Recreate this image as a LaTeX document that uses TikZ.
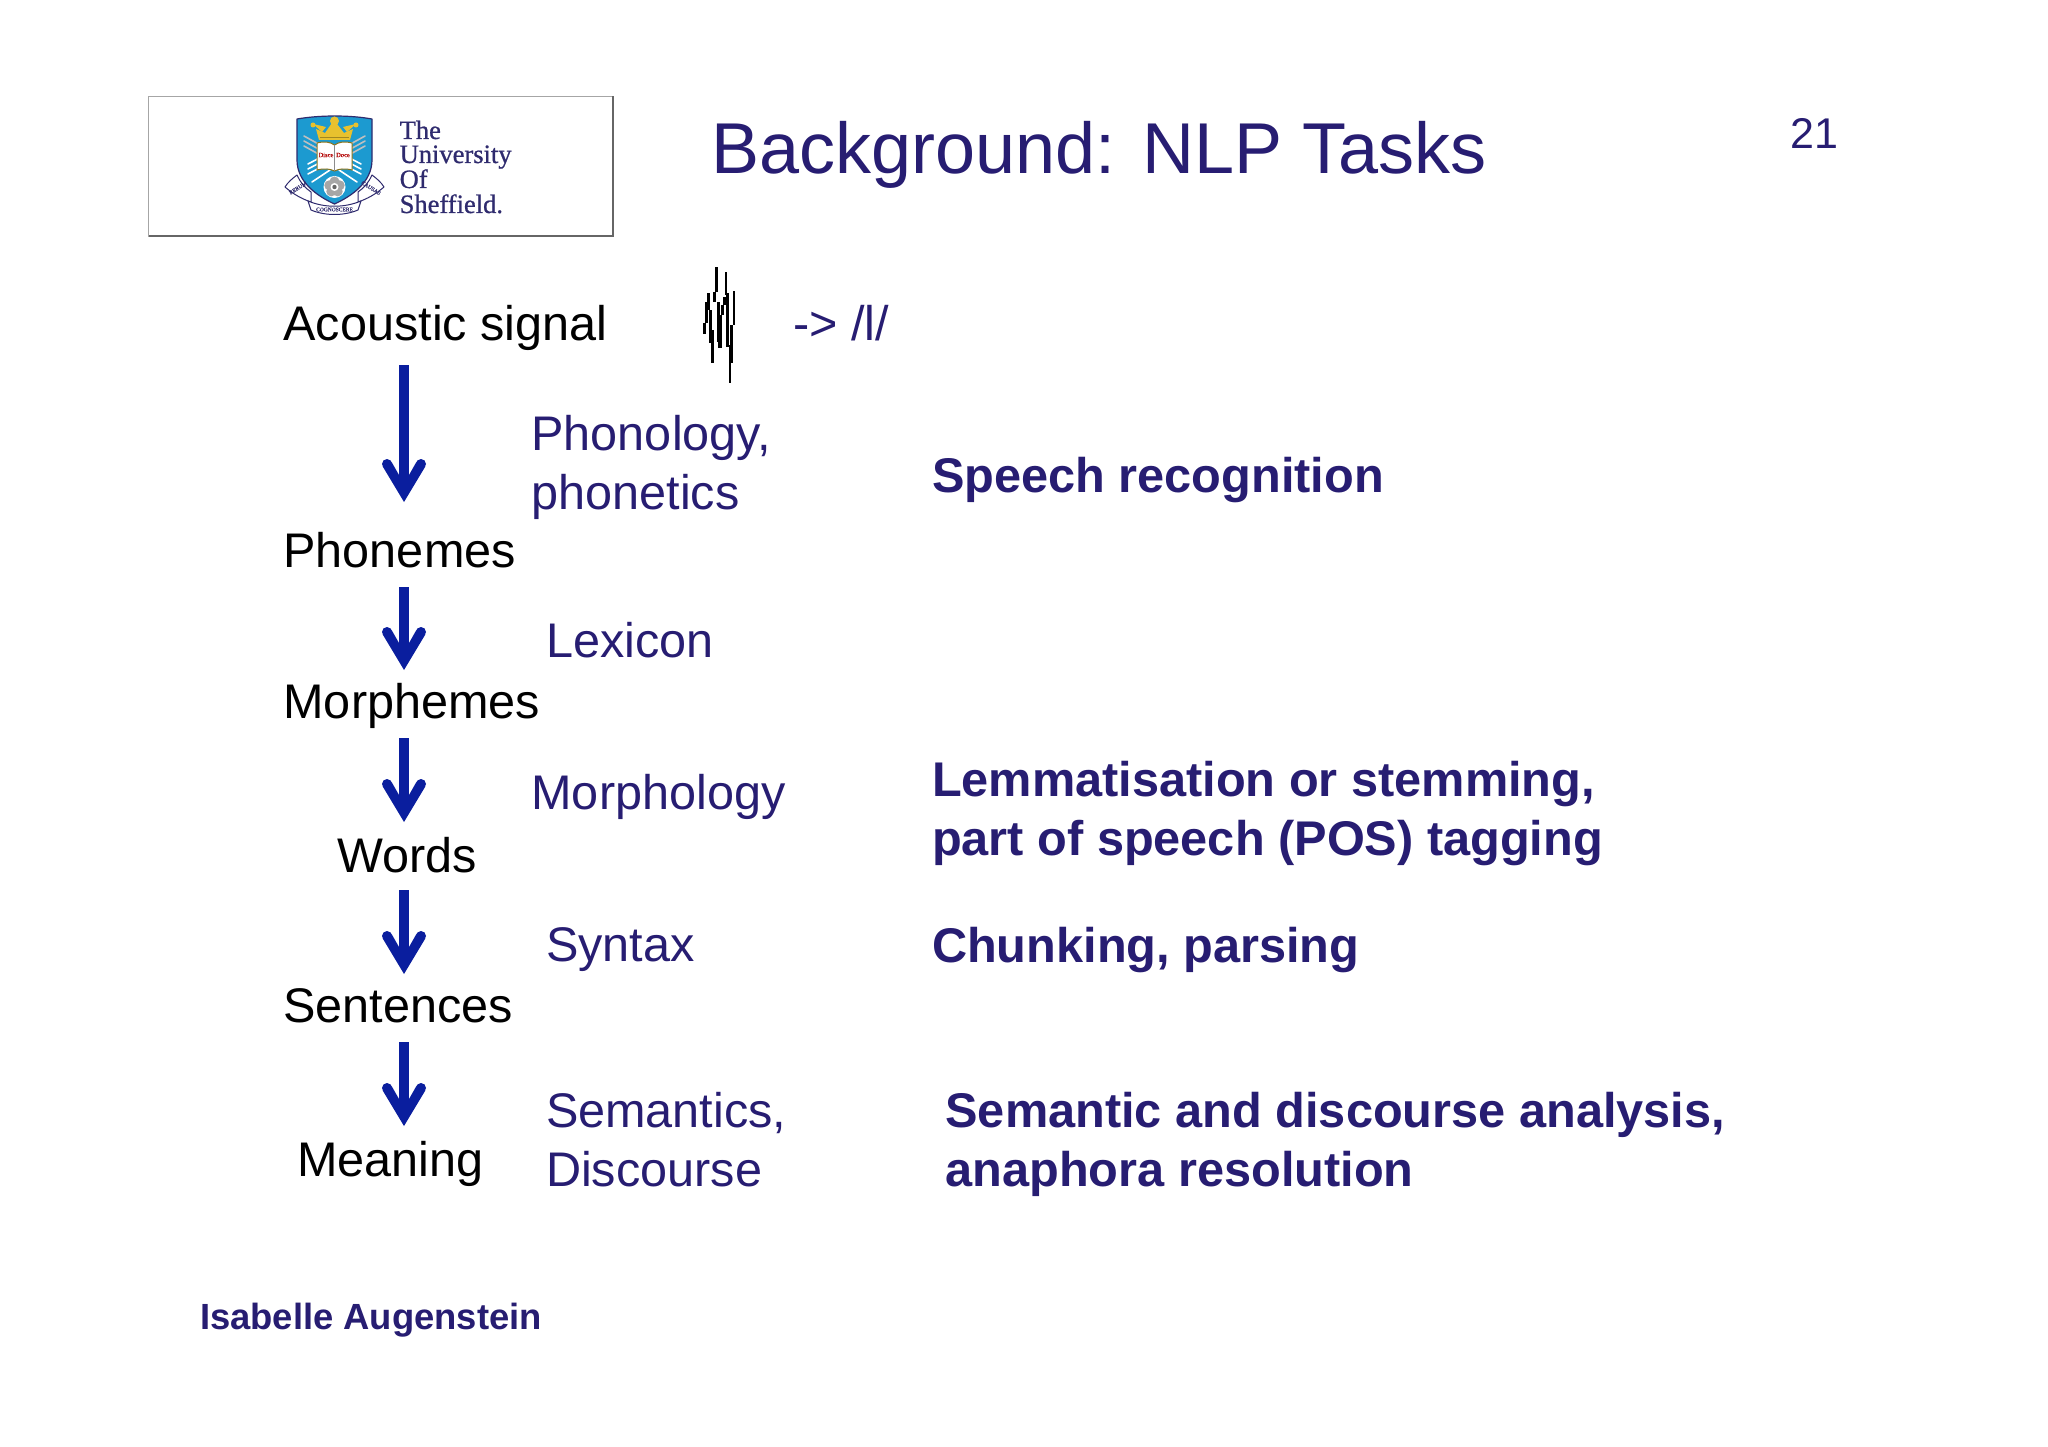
\documentclass[tikz,border=0pt]{standalone}
\usepackage{fontspec}
\setmainfont{Liberation Sans}
\newfontfamily\logoserif[RawFeature={embolden=0.8}]{Liberation Serif}
\usetikzlibrary{arrows.meta}
\definecolor{navy}{HTML}{271D72}
\definecolor{arrowblue}{HTML}{0A1E9E}
\definecolor{logonavy}{HTML}{2F2B6E}
\definecolor{shieldblue}{HTML}{1C9AD0}
\definecolor{crowngold}{HTML}{E8C12E}
\pgfdeclarearrow{
  name=FlowHead,
  setup code={
    \pgfarrowssettipend{0pt}
    \pgfarrowssetlineend{-20pt}
    \pgfarrowssetvisualbackend{-43pt}
    \pgfarrowssetbackend{-43pt}
  },
  drawing code={
    \pgfsetfillcolor{arrowblue}
    \pgfpathmoveto{\pgfqpoint{0pt}{0pt}}
    \pgfpathlineto{\pgfqpoint{-35.5pt}{21.3pt}}
    \pgfpathlineto{\pgfqpoint{-40.5pt}{12.7pt}}
    \pgfpathlineto{\pgfqpoint{-27pt}{5pt}}
    \pgfpathlineto{\pgfqpoint{-27pt}{-5pt}}
    \pgfpathlineto{\pgfqpoint{-40.5pt}{-12.7pt}}
    \pgfpathlineto{\pgfqpoint{-35.5pt}{-21.3pt}}
    \pgfpathclose
    \pgfpathcircle{\pgfqpoint{-38pt}{17pt}}{5pt}
    \pgfpathcircle{\pgfqpoint{-38pt}{-17pt}}{5pt}
    \pgfusepathqfill
  }
}
\tikzset{
  txt/.style={anchor=base west,inner sep=0pt,outer sep=0pt,font=\fontsize{48.6}{48.6}\selectfont,align=left},
  stage/.style={txt,text=black},
  field/.style={txt,text=navy},
  task/.style={txt,text=navy,font=\fontsize{48.7}{48.7}\selectfont\bfseries},
  logotext/.style={anchor=base west,inner sep=0pt,text=logonavy,font=\fontsize{26.5}{26.5}\selectfont\logoserif},
  flow/.style={draw=arrowblue,line width=10pt,-{FlowHead}},
  bolt/.style={draw=white!75!black,line width=1.6pt,line cap=round},
  scroll/.style={draw=logonavy,fill=white,line width=1pt,line join=round},
  motto/.style={inner sep=0pt,text=logonavy,font=\fontsize{5.5}{5.5}\selectfont\logoserif}
}
\begin{document}
\begin{tikzpicture}[x=1pt,y=-1pt]
\useasboundingbox (0,0) rectangle (2048,1447);
\fill[white] (0,0) rectangle (2048,1447);

% logo frame
\draw[draw=black!35,line width=1.6pt,fill=white] (148.5,96.5) rectangle (612.5,236.5);
\draw[draw=black!60,line width=2pt] (612.5,96.5) -- (612.5,236.5) -- (148.5,236.5);

% shield
\draw[fill=shieldblue,draw=logonavy,line width=1.2pt,line join=round]
  (297,119) .. controls (320,115) and (350,115) .. (372,119) -- (372,160)
  .. controls (372,182) and (352,196) .. (334.5,204)
  .. controls (317,196) and (297,182) .. (297,160) -- cycle;
% crossed arrows
\foreach \dy in {0,5,10}{
  \draw[bolt] (304,{136+\dy}) -- (322,{146+\dy});
  \draw[bolt] (365,{136+\dy}) -- (347,{146+\dy});
}
\foreach \dy in {0,5,10}{
  \draw[bolt,white] (308,{164+\dy}) -- (325,{155+\dy});
  \draw[bolt,white] (361,{164+\dy}) -- (344,{155+\dy});
}
\draw[bolt,white] (312,182) -- (330,170);
\draw[bolt,white] (357,182) -- (339,170);
% crown
\fill[crowngold] (319,140) -- (316,129) -- (325,133) -- (334,120) -- (344,133) -- (353,129) -- (350,140) -- cycle;
\fill[crowngold] (313,125) circle (2.5) (356,125) circle (2.5);
\fill[crowngold] (313,124) -- (326,127) -- (322,132) -- cycle;
\fill[crowngold] (356,124) -- (343,127) -- (347,132) -- cycle;
\fill[crowngold] (334.5,121) circle (4.5);
\draw[crowngold!70!black,line width=.8pt] (320,137) -- (349,137);
% book
\draw[fill=white,draw=crowngold!60!black,line width=1pt] (317,143) .. controls (325,141) and (330,142) .. (334.5,145)
  .. controls (339,142) and (344,141) .. (352,143) -- (352,170) .. controls (344,168) and (339,169) .. (334.5,171)
  .. controls (330,169) and (325,168) .. (317,170) -- cycle;
\draw[black!45,line width=.6pt] (334.5,145) -- (334.5,171);
\node[inner sep=0pt,text=red!70!black,font=\fontsize{6.5}{6.5}\selectfont\logoserif] (lgdisce) at (326,155) {Disce};
\node[inner sep=0pt,text=red!70!black,font=\fontsize{6.5}{6.5}\selectfont\logoserif] (lgdoce) at (343,155) {Doce};
% rose
\fill[white] (334.5,187) circle (11);
\foreach \a in {0,72,144,216,288}{\fill[black!35] (334.5,187) ++(\a+90:-5.5) circle (5);}
\fill[white] (334.5,187) circle (4);
\fill[black!60] (334.5,187) circle (2.2);
% scrolls
\draw[scroll] (285,187) .. controls (288,182) and (293,178) .. (297,175)
  .. controls (300,182) and (305,188) .. (311,192) -- (311,202)
  .. controls (302,199) and (293,194) .. (285,187) -- cycle;
\draw[scroll] (384,187) .. controls (381,182) and (376,178) .. (372,175)
  .. controls (369,182) and (364,188) .. (358,192) -- (358,202)
  .. controls (367,199) and (376,194) .. (384,187) -- cycle;
\draw[scroll] (308,201) .. controls (325,208) and (344,208) .. (361,201) -- (358,210)
  .. controls (344,216) and (325,216) .. (311,210) -- cycle;
\node[motto,rotate=32] (lgrerum) at (298,188) {RERUM};
\node[motto,rotate=-32] (lgcausas) at (371,188) {CAUSAS};
\node[motto] (lgcogn) at (334.5,209.5) {COGNOSCERE};
% logo text
\node[logotext] (lgthe) at (399.5,139) {The};
\node[logotext] (lguni) at (399.5,163) {University};
\node[logotext] (lgof) at (399.5,188) {Of};
\node[logotext] (lgshe) at (399.5,213) {Sheffield.};

% title and page number
\node[txt,text=navy,font=\fontsize{72}{72}\selectfont] (title) at (711.5,173.5) {Background: NLP Tasks};
\node[txt,text=navy,font=\fontsize{43}{43}\selectfont] (page) at (1790.5,149) {21};

% waveform
\foreach \zx/\za/\zb/\w in {
  73/218/252/2.4, 80/155/218/3.6, 85/128/180/2.4, 92/180/280/2.4, 97/240/338/2.4,
  104/125/155/3.6, 109/52/125/2.4, 115/155/275/3, 120/195/295/3.6, 127/165/195/2.4,
  133/140/165/2.4, 138/65/135/2.4, 143/130/290/2.4, 150/285/400/2.4, 155/225/340/3.6, 162/122/225/2.4}
  \fill[black] ({680+\zx/3-\w/2},{250+\za/3}) rectangle ({680+\zx/3+\w/2},{250+\zb/3});

% stages
\node[stage] (acoustic) at (283.5,340) {Acoustic signal};
\node[stage] (phonemes) at (283.5,567) {Phonemes};
\node[stage] (morphemes) at (283.5,718) {Morphemes};
\node[stage] (words) at (337,872) {Words};
\node[stage] (sentences) at (283.5,1022) {Sentences};
\node[stage] (meaning) at (297,1176) {Meaning};

% fields
\node[field] (phon) at (793,340) {-> /l/};
\node[field] (phonology) at (531.5,450) {Phonology,};
\node[field] (phonetics) at (531.5,509) {phonetics};
\node[field] (lexicon) at (546,657.5) {Lexicon};
\node[field] (morphology) at (531.5,809.5) {Morphology};
\node[field] (syntax) at (546,961.5) {Syntax};
\node[field] (semantics) at (546,1127) {Semantics,};
\node[field] (discourse) at (546,1186) {Discourse};

% tasks
\node[task] (speech) at (932,492.5) {Speech recognition};
\node[task] (lemma) at (932,796) {Lemmatisation or stemming,};
\node[task] (pos) at (932,855) {part of speech (POS) tagging};
\node[task] (chunk) at (932,962) {Chunking, parsing};
\node[task] (sem) at (945.5,1127) {Semantic and discourse analysis,};
\node[task] (ana) at (945.5,1186) {anaphora resolution};

\node[txt,text=navy,font=\fontsize{36.4}{36.4}\selectfont\bfseries] (author) at (200,1329) {Isabelle Augenstein};

% arrows
\coordinate (a1s) at (404,365); \coordinate (a1e) at (404,502);
\coordinate (a2s) at (404,587); \coordinate (a2e) at (404,670);
\coordinate (a3s) at (404,738); \coordinate (a3e) at (404,822);
\coordinate (a4s) at (404,890); \coordinate (a4e) at (404,974);
\coordinate (a5s) at (404,1042); \coordinate (a5e) at (404,1126);
\draw[flow] (a1s) -- (a1e);
\draw[flow] (a2s) -- (a2e);
\draw[flow] (a3s) -- (a3e);
\draw[flow] (a4s) -- (a4e);
\draw[flow] (a5s) -- (a5e);
\end{tikzpicture}
\end{document}
